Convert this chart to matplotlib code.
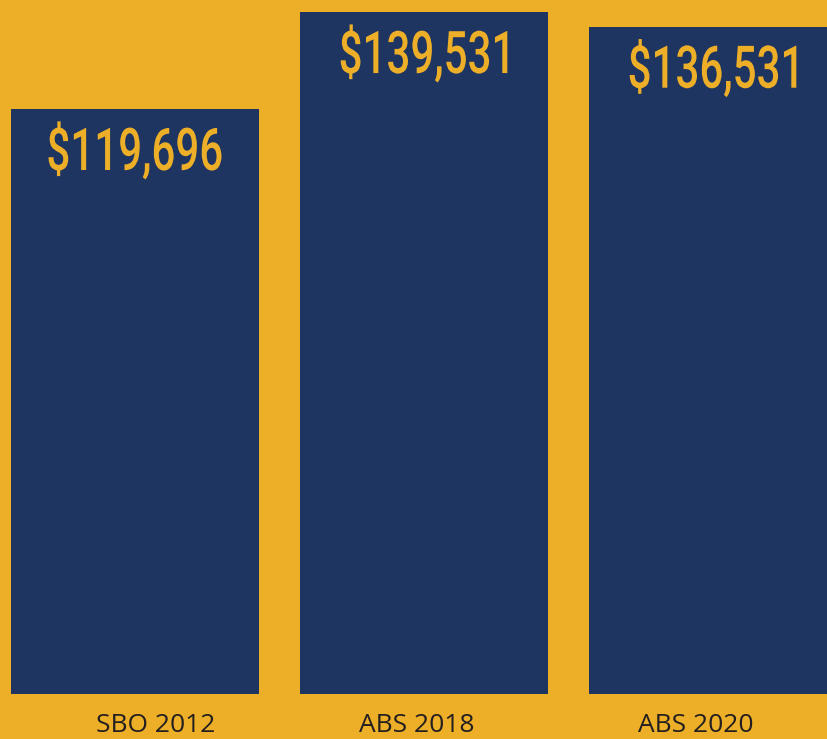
import numpy as np
import matplotlib
matplotlib.use("Agg")
import matplotlib.pyplot as plt
from matplotlib.textpath import TextPath
from matplotlib.patches import PathPatch
from matplotlib.font_manager import FontProperties
from matplotlib.transforms import Affine2D, IdentityTransform

# data
categories = ["SBO 2012", "ABS 2018", "ABS 2020"]
values = [119696, 139531, 136531]
value_labels = ["$119,696", "$139,531", "$136,531"]

bg = "#EDAF27"
bar_col = "#1E3461"
txt_dark = "#231F20"

W, H = 827, 739
fig = plt.figure(figsize=(W / 100, H / 100), dpi=100, facecolor=bg)
ax = fig.add_axes([0, 45 / H, 1, 694 / H])
ax.set_facecolor(bg)

x = np.arange(len(categories))
bars = ax.bar(x, values, width=248 / 289, color=bar_col, zorder=2)

# pixel mapping: bar centres at 135, 424, 712 px, step 289 px
ax.set_xlim(-135 / 289, (W - 135) / 289)
ax.set_ylim(0, values[0] * 694 / 585)
ax.axis("off")

# value labels: condensed look (no Oswald here), so squeeze a text path
fp = FontProperties(family="Roboto", weight="medium")
digit_h = TextPath((0, 0), "1", size=1, prop=fp).get_extents().height
sy = 42 / digit_h
sx = 173 / TextPath((0, 0), value_labels[0], size=1, prop=fp).get_extents().width
for b, lab in zip(bars, value_labels):
    tp = TextPath((0, 0), lab, size=1, prop=fp)
    ext = tp.get_extents()
    cx, top = ax.transData.transform((b.get_x() + b.get_width() / 2, b.get_height()))
    base = top - 19 - 42
    tr = (Affine2D().translate(-ext.x0 - ext.width / 2, 0)
          .scale(sx, sy).translate(cx, base))
    fig.add_artist(PathPatch(tr.transform_path(tp), transform=IdentityTransform(),
                             fc=bg, ec="none", zorder=5))

# category labels sit slightly off the bar centres in the original
label_shift = [0.073, -0.024, -0.059]
for i, (cat, s) in enumerate(zip(categories, label_shift)):
    px = (135 + (i + s) * 289) / W
    fig.text(px, 1 / H, cat, ha="center", va="bottom", fontsize=19,
             color=txt_dark, family=["Open Sans", "DejaVu Sans"])

fig.savefig("out.png", dpi=100, facecolor=bg)
